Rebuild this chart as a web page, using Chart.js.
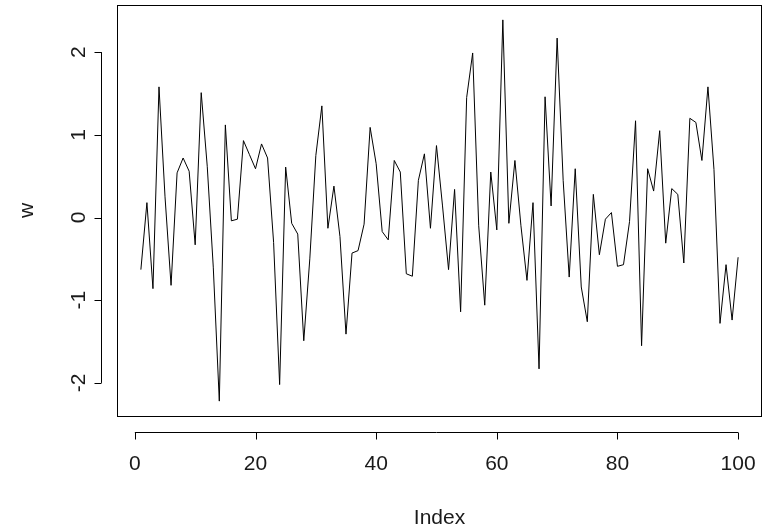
<!DOCTYPE html>
<html>
<head>
<meta charset="utf-8">
<script src="https://cdn.jsdelivr.net/npm/chart.js@4/dist/chart.umd.min.js"></script>
<style>
  html, body { margin: 0; padding: 0; background: #fff; }
  #wrap { width: 763px; height: 531px; }
</style>
</head>
<body>
<div id="wrap"><canvas id="wChart" width="763" height="531"></canvas></div>
<script>
// series (index 1..100)
const wValues = [
  -0.63, 0.18, -0.86, 1.58, 0.25, -0.82, 0.54, 0.72, 0.56, -0.33,
  1.51, 0.62, -0.60, -2.22, 1.12, -0.04, -0.02, 0.93, 0.76, 0.59,
  0.89, 0.72, -0.30, -2.02, 0.61, -0.07, -0.20, -1.49, -0.50, 0.75,
  1.35, -0.13, 0.38, -0.23, -1.41, -0.43, -0.40, -0.08, 1.09, 0.65,
  -0.17, -0.27, 0.69, 0.55, -0.68, -0.71, 0.45, 0.77, -0.13, 0.87,
  0.14, -0.63, 0.34, -1.14, 1.45, 1.99, -0.10, -1.06, 0.55, -0.15,
  2.39, -0.07, 0.69, -0.10, -0.76, 0.18, -1.83, 1.46, 0.14, 2.17,
  0.45, -0.72, 0.59, -0.84, -1.26, 0.28, -0.45, -0.02, 0.06, -0.59,
  -0.57, -0.05, 1.17, -1.55, 0.59, 0.32, 1.05, -0.31, 0.35, 0.28,
  -0.55, 1.20, 1.15, 0.69, 1.58, 0.58, -1.28, -0.57, -1.24, -0.48
];
const xTicks = [0, 20, 40, 60, 80, 100];
const yTicks = [-2, -1, 0, 1, 2];
const xTitle = 'Index';
const yTitle = 'w';

const FONT = '21px "Liberation Sans", Arial, sans-serif';

// R-style box + detached axes
const rAxes = {
    id: 'rAxes',
    afterDraw(chart) {
        const c = chart.ctx;
        const a = chart.chartArea;
        const xs = chart.scales.x;
        const ys = chart.scales.y;
        c.save();
        c.strokeStyle = '#000';
        c.fillStyle = '#1a1a1a';
        c.lineWidth = 1;
        c.strokeRect(a.left + 0.5, a.top + 0.5, a.right - a.left - 1, a.bottom - a.top);

        // x axis
        const axY = a.bottom + 16.5;
        c.beginPath();
        c.moveTo(xs.getPixelForValue(xTicks[0]), axY);
        c.lineTo(xs.getPixelForValue(xTicks[xTicks.length - 1]), axY);
        xTicks.forEach(t => {
            const px = Math.round(xs.getPixelForValue(t)) + 0.5;
            c.moveTo(px, axY);
            c.lineTo(px, axY + 7);
        });
        c.stroke();
        c.font = FONT;
        c.textAlign = 'center';
        c.textBaseline = 'middle';
        xTicks.forEach(t => c.fillText(String(t), xs.getPixelForValue(t), axY + 32));
        c.fillText(xTitle, (a.left + a.right) / 2, 518);

        // y axis
        const axX = a.left - 15.5;
        c.beginPath();
        c.moveTo(axX, ys.getPixelForValue(yTicks[0]));
        c.lineTo(axX, ys.getPixelForValue(yTicks[yTicks.length - 1]));
        yTicks.forEach(t => {
            const py = Math.round(ys.getPixelForValue(t)) + 0.5;
            c.moveTo(axX, py);
            c.lineTo(axX - 7, py);
        });
        c.stroke();
        yTicks.forEach(t => {
            c.save();
            c.translate(axX - 22, ys.getPixelForValue(t));
            c.rotate(-Math.PI / 2);
            c.fillText(String(t), 0, 0);
            c.restore();
        });
        c.save();
        c.translate(27, (a.top + a.bottom) / 2);
        c.rotate(-Math.PI / 2);
        c.fillText(yTitle, 0, 0);
        c.restore();
        c.restore();
    }
};

const ctx = document.getElementById('wChart').getContext('2d');
new Chart(ctx, {
    type: 'line',
    data: {
        datasets: [{
            data: wValues.map((v, i) => ({ x: i + 1, y: v })),
            borderColor: '#000',
            borderWidth: 1,
            pointRadius: 0,
            tension: 0,
            fill: false
        }]
    },
    options: {
        responsive: false,
        animation: false,
        events: [],
        layout: { padding: { left: 117, top: 5, right: 1, bottom: 115 } },
        plugins: { legend: { display: false }, tooltip: { enabled: false } },
        scales: {
            x: { type: 'linear', min: -2.96, max: 103.96, display: false },
            y: { type: 'linear', min: -2.40, max: 2.57, display: false }
        }
    },
    plugins: [rAxes]
});
</script>
</body>
</html>
